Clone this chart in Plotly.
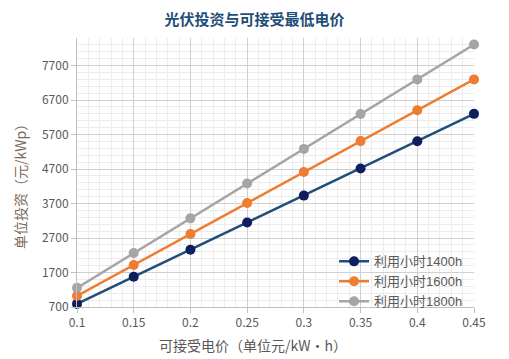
import plotly.graph_objects as go

prices = [0.1, 0.15, 0.2, 0.25, 0.3, 0.35, 0.4, 0.45]
inv_1400 = [790, 1575, 2360, 3150, 3930, 4715, 5505, 6300]
inv_1600 = [1020, 1920, 2815, 3715, 4615, 5510, 6405, 7300]
inv_1800 = [1255, 2265, 3270, 4280, 5285, 6295, 7300, 8310]
names = ["利用小时1400h", "利用小时1600h", "利用小时1800h"]
x_ticks = [0.1, 0.15, 0.2, 0.25, 0.3, 0.35, 0.4, 0.45]
x_ticktext = ["0.1", "0.15", "0.2", "0.25", "0.3", "0.35", "0.4", "0.45"]
y_ticks = [700, 1700, 2700, 3700, 4700, 5700, 6700, 7700]
x_title = "可接受电价（单位元/kW·h）"
y_title = "单位投资（元/kWp）"
chart_title = "光伏投资与可接受最低电价"

FONT = "Noto Sans CJK SC, Noto Sans, sans-serif"

fig = go.Figure()
styles = [
    ("#1f4e79", "#0d1f5c"),
    ("#ed7d31", "#ed7d31"),
    ("#a5a5a5", "#a5a5a5"),
]
for vals, name, (lc, mc) in zip([inv_1400, inv_1600, inv_1800], names, styles):
    fig.add_trace(go.Scatter(
        x=prices, y=vals, name=name, mode="lines+markers",
        line=dict(color=lc, width=2.5),
        marker=dict(color=mc, size=10),
        cliponaxis=False,
    ))

fig.update_layout(
    width=509, height=359,
    margin=dict(l=77, r=35, t=38, b=52, autoexpand=False),
    paper_bgcolor="white", plot_bgcolor="white",
    font=dict(family=FONT, color="#595959", size=12),
    title=dict(text="<b>" + chart_title + "</b>", x=0.5, xanchor="center",
               y=1 - 20 / 359, yanchor="middle",
               font=dict(size=15, color="#1f4e79", family=FONT)),
    legend=dict(x=0.985, y=-0.035, xanchor="right", yanchor="bottom",
                bgcolor="rgba(255,255,255,0)", tracegroupgap=0,
                font=dict(size=13, color="#595959", family="Liberation Sans, Noto Sans CJK SC"),
                itemwidth=30),
    showlegend=True,
    annotations=[
        dict(text=x_title, xref="paper", yref="paper", x=(253 - 77) / 397, y=-(345 - 307) / 269,
             xanchor="center", yanchor="middle", showarrow=False,
             font=dict(size=14, color="#595959", family=FONT)),
        dict(text=y_title, xref="paper", yref="paper", x=-(77 - 20) / 397, y=(307 - 183) / 269,
             xanchor="center", yanchor="middle", showarrow=False, textangle=-90,
             font=dict(size=14, color="#7f6a5a", family=FONT)),
    ],
)
fig.update_xaxes(
    range=[0.1, 0.45], tickvals=x_ticks, ticktext=x_ticktext,
    showgrid=True, gridcolor="#d0d0d0", gridwidth=1,
    showline=True, linecolor="#bfbfbf", linewidth=1,
    ticks="outside", ticklen=5, tickcolor="#bfbfbf",
    zeroline=False,
    minor=dict(dtick=0.01, tick0=0.1, showgrid=True, gridcolor="#ececec", ticks=""),
    tickfont=dict(size=12, color="#595959"),
)
fig.update_yaxes(
    range=[700, 8500], tickvals=y_ticks,
    showgrid=True, gridcolor="#d0d0d0", gridwidth=1,
    showline=True, linecolor="#bfbfbf", linewidth=1,
    ticks="outside", ticklen=5, tickcolor="#bfbfbf",
    zeroline=False,
    minor=dict(dtick=200, tick0=700, showgrid=True, gridcolor="#ececec", ticks=""),
    tickfont=dict(size=12, color="#595959"),
)

fig.write_html("out.html", config={"displayModeBar": False},
               post_script="document.body.style.margin='0';")
